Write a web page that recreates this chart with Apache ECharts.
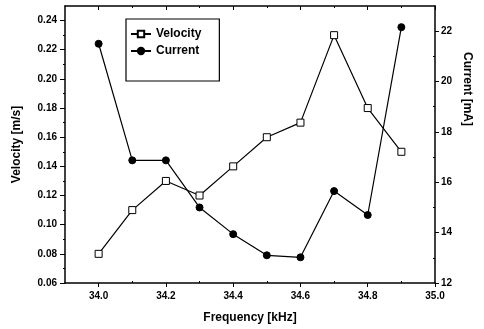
<!DOCTYPE html>
<html>
<head>
<meta charset="utf-8">
<script src="https://cdn.jsdelivr.net/npm/echarts@6/dist/echarts.min.js"></script>
<style>html,body{margin:0;padding:0;background:#fff}#c{width:484px;height:329px}</style>
</head>
<body>
<div id="c"></div>
<script>
// ---- data ----
const frequency = [34.0, 34.1, 34.2, 34.3, 34.4, 34.5, 34.6, 34.7, 34.8, 34.9];
const velocity = [0.08, 0.11, 0.13, 0.12, 0.14, 0.16, 0.17, 0.23, 0.18, 0.15];
const current = [21.5, 16.87, 16.87, 15.0, 13.94, 13.1, 13.02, 15.65, 14.7, 22.16];
const xMajorTicks = [34.0, 34.2, 34.4, 34.6, 34.8, 35.0];
const xMinorTicks = [34.1, 34.3, 34.5, 34.7, 34.9];
const leftMajorTicks = [0.06, 0.08, 0.10, 0.12, 0.14, 0.16, 0.18, 0.20, 0.22, 0.24];
const leftMinorTicks = [0.07, 0.09, 0.11, 0.13, 0.15, 0.17, 0.19, 0.21, 0.23];
const rightMajorTicks = [12, 14, 16, 18, 20, 22];
const rightMinorTicks = [13, 15, 17, 19, 21];

const FONT = '"Liberation Sans", Arial, sans-serif';
const chart = echarts.init(document.getElementById('c'), null, {renderer: 'canvas'});
const lineStyle = {color: '#000', width: 1.5};
const xBase = {type: 'value', min: 33.9, max: 35.0, interval: 0.1, splitLine: {show: false}};
const yLBase = {type: 'value', min: 0.06, max: 0.25, interval: 0.01, splitLine: {show: false}, position: 'left'};
const yRBase = {type: 'value', min: 12, max: 23, interval: 1, splitLine: {show: false}, position: 'right'};

chart.setOption({
  animation: false,
  backgroundColor: '#fff',
  grid: {left: 65, right: 49, top: 6, bottom: 44, containLabel: false},
  legend: {
    data: ['Velocity', 'Current'],
    orient: 'vertical', left: 126, top: 19,
    borderColor: '#000', borderWidth: 1.2,
    padding: [8, 18, 23, 4],
    itemWidth: 20, itemHeight: 8, itemGap: 3,
    textStyle: {fontFamily: FONT, fontSize: 12, fontWeight: 'bold', color: '#000', lineHeight: 14}
  },
  xAxis: [
    Object.assign({}, xBase, {
      position: 'bottom',
      name: 'Frequency [kHz]', nameLocation: 'middle', nameGap: 29,
      nameTextStyle: {fontFamily: FONT, fontSize: 12, fontWeight: 'bold', color: '#000'},
      axisLine: {show: true, onZero: false, lineStyle: lineStyle},
      axisTick: {show: true, length: 4, customValues: xMajorTicks, lineStyle: {color: '#000', width: 1}},
      axisLabel: {show: true, margin: 8, customValues: xMajorTicks, fontFamily: FONT, fontSize: 10, fontWeight: 'bold', color: '#000',
        formatter: v => v.toFixed(1)}
    }),
    Object.assign({}, xBase, {
      position: 'bottom',
      axisLine: {show: false, onZero: false},
      axisTick: {show: true, inside: true, length: 2, customValues: xMinorTicks, lineStyle: {color: '#000', width: 1}},
      axisLabel: {show: false}
    }),
    Object.assign({}, xBase, {
      position: 'top',
      axisLine: {show: true, onZero: false, lineStyle: lineStyle},
      axisTick: {show: true, inside: true, length: 4, customValues: xMajorTicks, lineStyle: {color: '#000', width: 1}},
      axisLabel: {show: false}
    }),
    Object.assign({}, xBase, {
      position: 'top',
      axisLine: {show: false, onZero: false},
      axisTick: {show: true, inside: true, length: 2, customValues: xMinorTicks, lineStyle: {color: '#000', width: 1}},
      axisLabel: {show: false}
    })
  ],
  yAxis: [
    Object.assign({}, yLBase, {
      name: 'Velocity [m/s]', nameLocation: 'middle', nameGap: 42,
      nameTextStyle: {fontFamily: FONT, fontSize: 12, fontWeight: 'bold', color: '#000'},
      axisLine: {show: true, onZero: false, lineStyle: lineStyle},
      axisTick: {show: true, length: 5, customValues: leftMajorTicks, lineStyle: {color: '#000', width: 1}},
      axisLabel: {show: true, margin: 8, customValues: leftMajorTicks, fontFamily: FONT, fontSize: 10, fontWeight: 'bold', color: '#000',
        formatter: v => v.toFixed(2)}
    }),
    Object.assign({}, yRBase, {
      axisLine: {show: true, onZero: false, lineStyle: lineStyle},
      axisTick: {show: true, length: 4, customValues: rightMajorTicks, lineStyle: {color: '#000', width: 1}},
      axisLabel: {show: true, margin: 6, customValues: rightMajorTicks, fontFamily: FONT, fontSize: 10, fontWeight: 'bold', color: '#000',
        formatter: v => String(v)}
    }),
    Object.assign({}, yLBase, {
      axisLine: {show: false, onZero: false},
      axisTick: {show: true, length: 2, customValues: leftMinorTicks, lineStyle: {color: '#000', width: 1}},
      axisLabel: {show: false}
    }),
    Object.assign({}, yRBase, {
      axisLine: {show: false, onZero: false},
      axisTick: {show: true, inside: true, length: 2, customValues: rightMinorTicks, lineStyle: {color: '#000', width: 1}},
      axisLabel: {show: false}
    })
  ],
  graphic: [{
    type: 'text', x: 467, y: 89, rotation: -Math.PI / 2,
    style: {text: 'Current [mA]', font: 'bold 12px ' + FONT, fill: '#000', align: 'center', verticalAlign: 'middle'}
  }],
  series: [
    {
      name: 'Velocity', type: 'line', xAxisIndex: 0, yAxisIndex: 0,
      data: frequency.map((f, i) => [f, velocity[i]]),
      symbol: 'rect', symbolSize: 7, showAllSymbol: true,
      lineStyle: {color: '#000', width: 1.2},
      itemStyle: {color: '#fff', borderColor: '#000', borderWidth: 1},
      z: 3
    },
    {
      name: 'Current', type: 'line', xAxisIndex: 0, yAxisIndex: 1,
      data: frequency.map((f, i) => [f, current[i]]),
      symbol: 'circle', symbolSize: 7, showAllSymbol: true,
      lineStyle: {color: '#000', width: 1.2},
      itemStyle: {color: '#000', borderColor: '#000', borderWidth: 1},
      z: 3
    }
  ]
});
</script>
</body>
</html>
